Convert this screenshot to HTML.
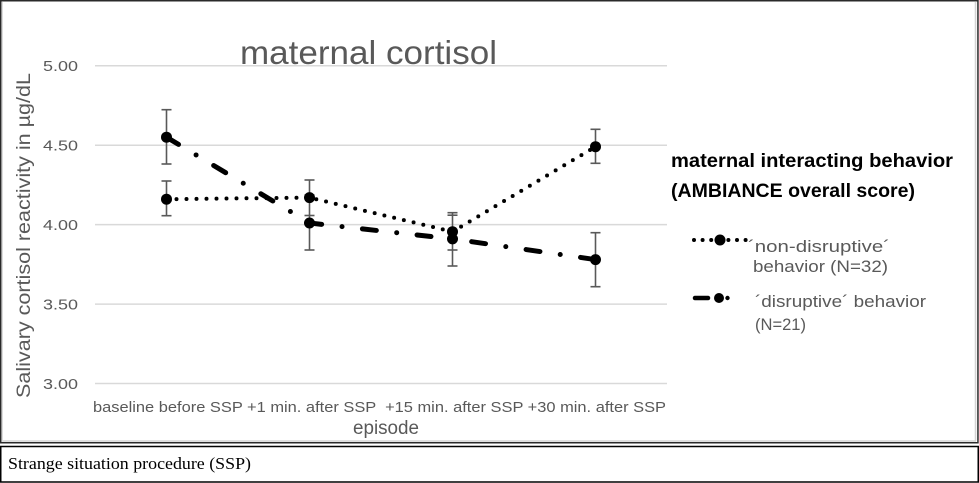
<!DOCTYPE html>
<html><head><meta charset="utf-8">
<style>
html,body{margin:0;padding:0;background:#fff;}
body{width:979px;height:483px;overflow:hidden;}
svg{display:block;}
</style></head>
<body>
<svg width="979" height="483" viewBox="0 0 979 483" xmlns="http://www.w3.org/2000/svg">
  <!-- chart frame -->
  <rect x="0" y="0" width="979" height="483" fill="#fff"/>
  <line x1="975.5" y1="2" x2="975.5" y2="441" stroke="#d4d4d4" stroke-width="1.5"/>
  <line x1="2" y1="441" x2="976" y2="441" stroke="#d4d4d4" stroke-width="1.5"/>
  <line x1="2.5" y1="2" x2="2.5" y2="441" stroke="#dcdcdc" stroke-width="1"/>
  <rect x="0.75" y="0.75" width="977.2" height="442" fill="none" stroke="#2a2a2a" stroke-width="1.5"/>

  <!-- caption box -->
  <rect x="0.75" y="446.5" width="977.5" height="35.5" fill="none" stroke="#000" stroke-width="1.5"/>
  <text x="8" y="469" font-family="'Liberation Serif', serif" font-size="17" fill="#000" textLength="243" lengthAdjust="spacingAndGlyphs">Strange situation procedure (SSP)</text>

  <!-- title -->
  <text x="240" y="64" font-family="'Liberation Sans', sans-serif" font-size="33" fill="#595959" textLength="257" lengthAdjust="spacingAndGlyphs">maternal cortisol</text>

  <!-- gridlines -->
  <g stroke="#d9d9d9" stroke-width="1.5">
    <line x1="95" y1="65.7" x2="667" y2="65.7"/>
    <line x1="95" y1="145.2" x2="667" y2="145.2"/>
    <line x1="95" y1="224.6" x2="667" y2="224.6"/>
    <line x1="95" y1="304.1" x2="667" y2="304.1"/>
    <line x1="95" y1="383.5" x2="667" y2="383.5"/>
  </g>

  <!-- y tick labels -->
  <g font-family="'Liberation Sans', sans-serif" font-size="14.5" fill="#595959" text-anchor="end">
    <text x="78" y="71" textLength="35" lengthAdjust="spacingAndGlyphs">5.00</text>
    <text x="78" y="150.5" textLength="35" lengthAdjust="spacingAndGlyphs">4.50</text>
    <text x="78" y="230" textLength="35" lengthAdjust="spacingAndGlyphs">4.00</text>
    <text x="78" y="309.5" textLength="35" lengthAdjust="spacingAndGlyphs">3.50</text>
    <text x="78" y="389" textLength="35" lengthAdjust="spacingAndGlyphs">3.00</text>
  </g>

  <!-- y axis title -->
  <text transform="translate(30,235.5) rotate(-90)" text-anchor="middle" font-family="'Liberation Sans', sans-serif" font-size="19" fill="#595959" textLength="325" lengthAdjust="spacingAndGlyphs">Salivary cortisol reactivity in µg/dL</text>

  <!-- x labels -->
  <text x="93" y="412" xml:space="preserve" font-family="'Liberation Sans', sans-serif" font-size="15" fill="#595959" textLength="573" lengthAdjust="spacingAndGlyphs">baseline before SSP +1 min. after SSP  +15 min. after SSP +30 min. after SSP</text>

  <!-- x axis title -->
  <text x="386" y="434" text-anchor="middle" font-family="'Liberation Sans', sans-serif" font-size="19" fill="#595959" textLength="66" lengthAdjust="spacingAndGlyphs">episode</text>

  <!-- error bars -->
  <g stroke="#595959" stroke-width="1.6" fill="none">
    <line x1="166.5" y1="181" x2="166.5" y2="215.7"/>
    <line x1="161.5" y1="181" x2="171.5" y2="181"/>
    <line x1="161.5" y1="215.7" x2="171.5" y2="215.7"/>
    <line x1="166.5" y1="109.7" x2="166.5" y2="164"/>
    <line x1="161.5" y1="109.7" x2="171.5" y2="109.7"/>
    <line x1="161.5" y1="164" x2="171.5" y2="164"/>
    <line x1="309.5" y1="180" x2="309.5" y2="250"/>
    <line x1="304.5" y1="180" x2="314.5" y2="180"/>
    <line x1="304.5" y1="215.5" x2="314.5" y2="215.5"/>
    <line x1="304.5" y1="195" x2="314.5" y2="195"/>
    <line x1="304.5" y1="250" x2="314.5" y2="250"/>
    <line x1="452.5" y1="212.7" x2="452.5" y2="266"/>
    <line x1="447.5" y1="212.7" x2="457.5" y2="212.7"/>
    <line x1="447.5" y1="215.2" x2="457.5" y2="215.2"/>
    <line x1="447.5" y1="250" x2="457.5" y2="250"/>
    <line x1="447.5" y1="266" x2="457.5" y2="266"/>
    <line x1="595.5" y1="129.3" x2="595.5" y2="163.3"/>
    <line x1="590.5" y1="129.3" x2="600.5" y2="129.3"/>
    <line x1="590.5" y1="163.3" x2="600.5" y2="163.3"/>
    <line x1="595.5" y1="232.7" x2="595.5" y2="286.7"/>
    <line x1="590.5" y1="232.7" x2="600.5" y2="232.7"/>
    <line x1="590.5" y1="286.7" x2="600.5" y2="286.7"/>
  </g>

  <!-- series: disruptive (dash-dot) -->
  <polyline points="166.5,137.2 309.5,223 452.5,238.9 595.5,259.6" fill="none" stroke="#000" stroke-width="5" stroke-linecap="round" stroke-dasharray="14 20.5 0 20.5"/>
  <!-- series: non-disruptive (dotted) -->
  <polyline points="166.5,199.2 309.5,197.6 452.5,231.7 595.5,146.7" fill="none" stroke="#000" stroke-width="4" stroke-linecap="round" stroke-dasharray="0 10"/>

  <!-- markers -->
  <g fill="#000">
    <circle cx="166.5" cy="137.2" r="5.5"/>
    <circle cx="309.5" cy="223" r="5.5"/>
    <circle cx="452.5" cy="238.9" r="5.5"/>
    <circle cx="595.5" cy="259.6" r="5.5"/>
    <circle cx="166.5" cy="199.2" r="5.5"/>
    <circle cx="309.5" cy="197.6" r="5.5"/>
    <circle cx="452.5" cy="231.7" r="5.5"/>
    <circle cx="595.5" cy="146.7" r="5.5"/>
  </g>

  <!-- legend -->
  <g font-family="'Liberation Sans', sans-serif" font-weight="bold" font-size="19" fill="#000">
    <text x="671" y="167" textLength="282" lengthAdjust="spacingAndGlyphs">maternal interacting behavior</text>
    <text x="671" y="197" textLength="244" lengthAdjust="spacingAndGlyphs">(AMBIANCE overall score)</text>
  </g>
  <line x1="694" y1="240" x2="746" y2="240" stroke="#000" stroke-width="4" stroke-linecap="round" stroke-dasharray="0 8.6"/>
  <circle cx="720" cy="240" r="5.5" fill="#000"/>
  <line x1="695" y1="298" x2="708" y2="298" stroke="#000" stroke-width="4.5" stroke-linecap="round"/>
  <circle cx="719" cy="298" r="5" fill="#000"/>
  <circle cx="727.5" cy="298" r="2.2" fill="#000"/>
  <g font-family="'Liberation Sans', sans-serif" font-size="17" fill="#595959">
    <text x="748" y="252" textLength="142" lengthAdjust="spacingAndGlyphs">´non-disruptive´</text>
    <text x="753" y="272" textLength="135" lengthAdjust="spacingAndGlyphs">behavior (N=32)</text>
    <text x="755" y="307" textLength="171" lengthAdjust="spacingAndGlyphs">´disruptive´ behavior</text>
    <text x="755" y="330" textLength="51" lengthAdjust="spacingAndGlyphs">(N=21)</text>
  </g>
</svg>
</body></html>
